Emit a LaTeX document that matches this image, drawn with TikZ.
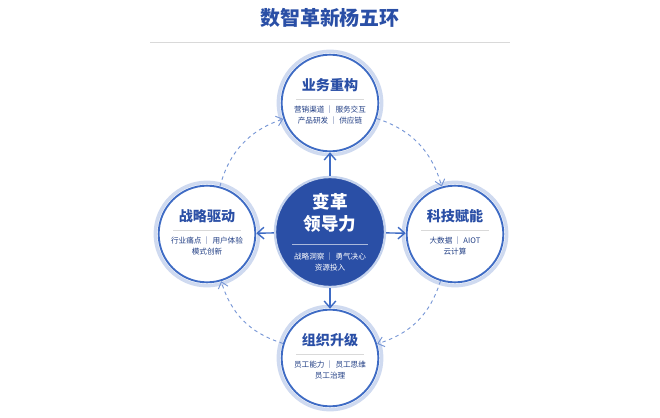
\documentclass[tikz,border=0pt]{standalone}
\usepackage{fontspec}
\newfontfamily\cjk{Noto Sans CJK SC}
\usetikzlibrary{arrows.meta}
\definecolor{deepblue}{HTML}{2A4FA6}
\definecolor{ringblue}{HTML}{3E6BC4}
\begin{document}
\begin{tikzpicture}%
        [x=0.03cm, y=-0.03cm,
        outer/.style={circle,draw=ringblue,line width=1.6pt,fill=white,minimum size=2.9cm,inner sep=0pt},
        halo/.style={circle,draw=ringblue!25,line width=3pt,minimum size=3.1cm},
        core/.style={circle,fill=deepblue,draw=ringblue!30,line width=2pt,minimum size=3.3cm,inner sep=0pt},
        spoke/.style={ringblue,line width=1.2pt,-{Straight Barb[length=2mm,width=3.5mm]}},
        loopflow/.style={ringblue!70,dashed,line width=0.8pt,-{Straight Barb[length=1.8mm,width=3mm]}}]
    \useasboundingbox (0,0) rectangle (660,418);
    \cjk
    %% Title
    \node[text=deepblue,font=\cjk\bfseries\fontsize{17}{20}\selectfont] (title) at (330,18) {数智革新杨五环};
    \draw[black!15,line width=0.8pt] (150,42) -- (510,42);
    %% Nodes
    \node[halo] at (330,103) {};
    \node[halo] at (207,234) {};
    \node[halo] at (455,234) {};
    \node[halo] at (330,358) {};
    \node[core] (lead) at (330,232) {};
    \node[outer] (biz)  at (330,103) {};
    \node[outer] (strat) at (207,234) {};
    \node[outer] (tech) at (455,234) {};
    \node[outer] (org)  at (330,358) {};
    %% Texts
    \node[text=white,font=\cjk\bfseries\fontsize{15}{19}\selectfont,align=center] at (330,213) {变革\\领导力};
    \draw[white!60!deepblue,line width=0.4pt] (292,244) -- (368,244);
    \node[text=white,font=\cjk\fontsize{6.5}{9}\selectfont,align=center] at (330,262) {战略洞察 ｜ 勇气决心\\资源投入};
    \foreach \name/\px/\py/\head/\sub in {
        biz/330/103/业务重构/{营销渠道 ｜ 服务交互\\产品研发 ｜ 供应链},
        strat/207/234/战略驱动/{行业痛点 ｜ 用户体验\\模式创新},
        tech/455/234/科技赋能/{大数据 ｜ AIOT\\云计算},
        org/330/358/组织升级/{员工能力 ｜ 员工思维\\员工治理}} {
      \node[text=deepblue,font=\cjk\bfseries\fontsize{12}{14}\selectfont] at (\px,\py-18) {\head};
      \draw[black!15,line width=0.4pt] (\px-34,\py-4) -- (\px+34,\py-4);
      \node[text=deepblue!80!black,font=\cjk\fontsize{6.5}{9}\selectfont,align=center] at (\px,\py+12) {\sub};
    }
    %% Connectors
    \draw[spoke] (lead) -- (biz);
    \draw[spoke] (lead) -- (strat);
    \draw[spoke] (lead) -- (tech);
    \draw[spoke] (lead) -- (org);
    \draw[loopflow] (biz) to[bend left=28] (tech);
    \draw[loopflow] (tech) to[bend left=28] (org);
    \draw[loopflow] (org) to[bend left=28] (strat);
    \draw[loopflow] (strat) to[bend left=28] (biz);
\end{tikzpicture}
\end{document}
